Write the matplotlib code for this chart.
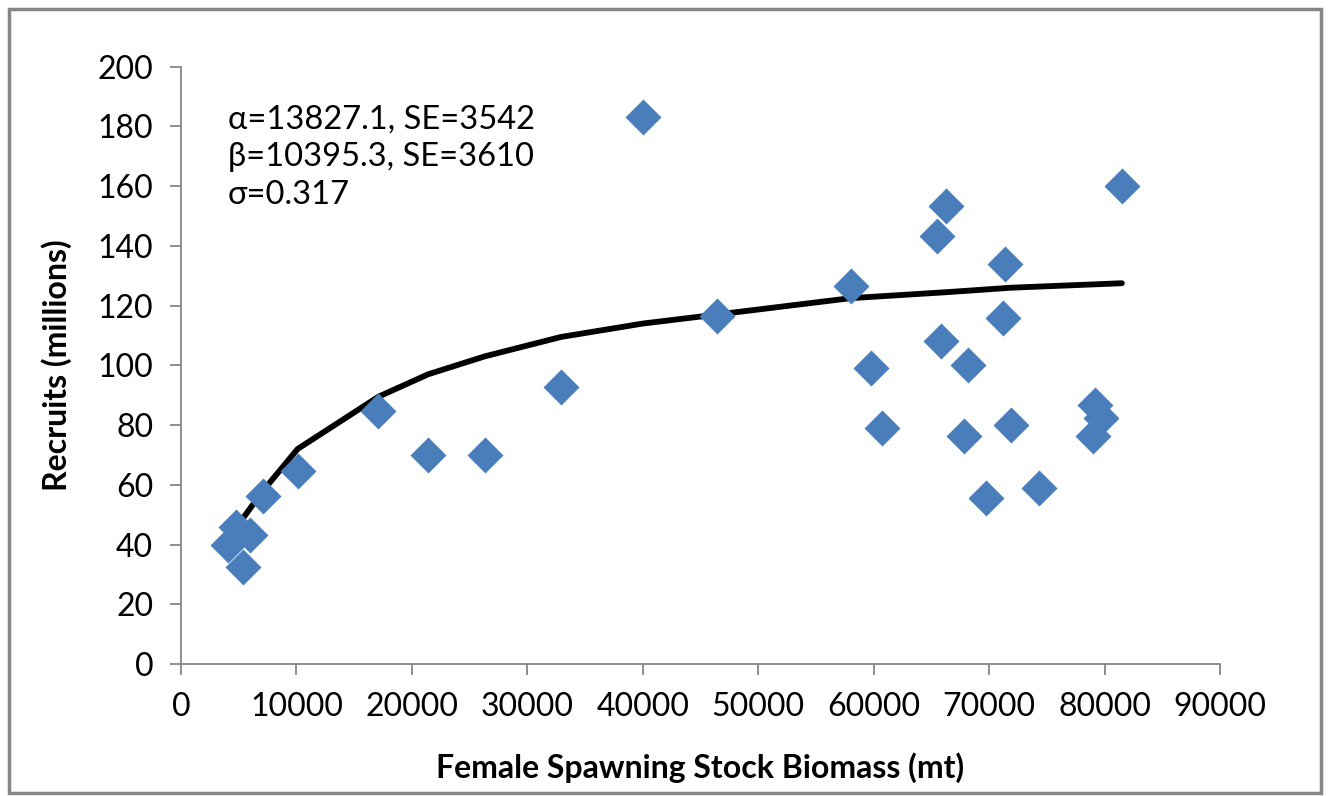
import matplotlib
matplotlib.use("Agg")
import matplotlib.pyplot as plt
from matplotlib.patches import Rectangle

plt.rcParams['font.family'] = ['Lato', 'DejaVu Sans']

# observed stock / recruit pairs
ssb = [40000, 81500, 66300, 65500, 71400, 58000, 46400, 71200, 65800, 59800,
       68200, 32900, 79200, 17100, 79700, 60700, 71900, 67800, 79000, 21400,
       26300, 10100, 74300, 69700, 7100, 4800, 6000, 4100, 5400]
recruits = [183, 160, 153.3, 143.3, 133.9, 126.5, 116.5, 115.8, 108.1, 99.1,
            100.1, 92.7, 86.7, 84.7, 82.4, 79, 80, 76.3, 76.3, 70,
            70, 64.6, 58.9, 55.6, 56.2, 46, 43.2, 39.8, 32.6]

# fitted Beverton-Holt curve
fit_ssb = [4100, 5400, 7100, 10100, 17100, 21400, 26300, 32900, 40000, 46400,
           58000, 66300, 71900, 81500]
fit_rec = [41, 49, 58, 72, 89.5, 97, 103, 109.5, 114, 117,
           122.5, 124.5, 126, 127.5]

fit_text = "\u03b1=13827.1, SE=3542\n\u03b2=10395.3, SE=3610\n\u03c3=0.317"

fig = plt.figure(figsize=(13.32, 7.96), dpi=100)
ax = fig.add_axes([0.1359, 0.1658, 0.780, 0.7504])

ax.plot(fit_ssb, fit_rec, color='black', lw=4.2, solid_capstyle='round', zorder=2)
ax.plot(ssb, recruits, 'D', color='#4A7EBB', ms=18, mec='none', zorder=3)

ax.set_xlim(0, 90000)
ax.set_ylim(0, 200)
ax.set_xticks(range(0, 90001, 10000))
ax.set_yticks(range(0, 201, 20))

for s in ['top', 'right']:
    ax.spines[s].set_visible(False)
for s in ['left', 'bottom']:
    ax.spines[s].set_color('#868686')
    ax.spines[s].set_linewidth(1.3)
ax.tick_params(direction='out', length=8, width=1.3, color='#868686',
               labelsize=23, pad=12)

ax.set_xlabel('Female Spawning Stock Biomass (mt)', fontsize=23, fontweight='bold')
ax.set_ylabel('Recruits (millions)', fontsize=23, fontweight='bold')
ax.xaxis.set_label_coords(0.5, -0.148)
ax.yaxis.set_label_coords(-0.105, 0.5)

ax.text(0.045, 0.937, fit_text, transform=ax.transAxes, fontsize=23.5,
        va='top', ha='left', linespacing=1.32)

fig.patches.append(Rectangle((0.007, 0.004), 0.985, 0.985, transform=fig.transFigure,
                             fill=False, edgecolor='#868686', lw=2.5))

fig.savefig('out.png', dpi=100)
